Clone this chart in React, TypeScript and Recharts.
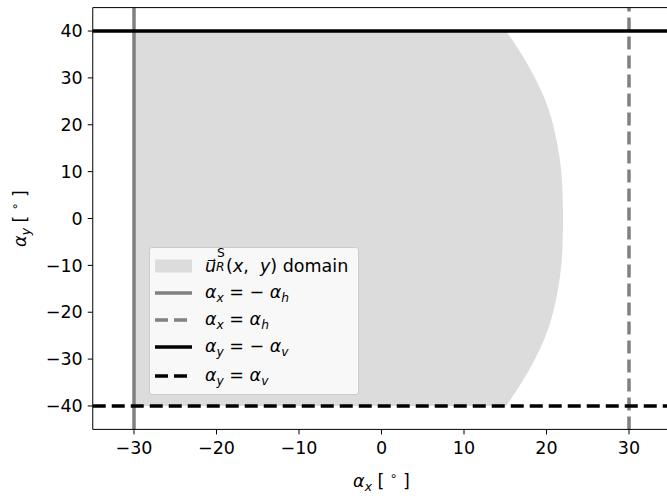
import React from "react"
import { ComposedChart, Area, XAxis, YAxis, ReferenceLine } from "recharts"

const elevations = [-40, -35, -30, -25, -20, -15, -10, -5, 0, 5, 10, 15, 20, 25, 30, 35, 40]
const edgeX = [15.1, 17.0, 18.6, 19.9, 20.8, 21.4, 21.8, 21.95, 22.0, 21.95, 21.8, 21.4, 20.8, 19.9, 18.6, 17.0, 15.1]

const alphaH = 30
const alphaV = 40

const xTicks = [-30, -20, -10, 0, 10, 20, 30]
const yTicks = [-40, -30, -20, -10, 0, 10, 20, 30, 40]

const domainData = elevations.map((y, i) => ({ y, span: [-alphaH, edgeX[i]] }))

const FONT = "'DejaVu Sans', sans-serif"
const FS = 17.5
const minus = (v: number) => String(v).replace("-", "\u2212")

const XLabel = (props: any) => {
  const vb = props.viewBox || { x: 93, width: 577 }
  const cx = vb.x + vb.width / 2
  return (
    <text x={cx} y={487} textAnchor="middle" fontSize={FS} fontFamily={FONT} fill="#000">
      <tspan fontStyle="italic">α</tspan>
      <tspan fontStyle="italic" fontSize={FS * 0.7} dy={4}>x</tspan>
      <tspan dy={-4}>{" [ "}</tspan>
      <tspan fontSize={FS * 0.7} dy={-7}>∘</tspan>
      <tspan dy={7}>{" ]"}</tspan>
    </text>
  )
}

const YLabel = (props: any) => {
  const vb = props.viewBox || { y: 7.6, height: 421.8 }
  const cy = vb.y + vb.height / 2
  return (
    <text x={0} y={0} transform={`translate(26, ${cy}) rotate(-90)`} textAnchor="middle" fontSize={FS} fontFamily={FONT} fill="#000">
      <tspan fontStyle="italic">α</tspan>
      <tspan fontStyle="italic" fontSize={FS * 0.7} dy={4}>y</tspan>
      <tspan dy={-4}>{" [ "}</tspan>
      <tspan fontSize={FS * 0.7} dy={-7}>∘</tspan>
      <tspan dy={7}>{" ]"}</tspan>
    </text>
  )
}

const Sub = ({ children }: { children: React.ReactNode }) => (
  <span style={{ fontSize: "0.7em", position: "relative", top: "0.3em", fontStyle: "italic" }}>{children}</span>
)

const Handle = ({ kind }: { kind: string }) => (
  <svg width={37} height={14} style={{ display: "block" }}>
    {kind === "patch" ? (
      <rect x={0} y={0.5} width={37} height={13} fill="#dcdcdc" />
    ) : (
      <line
        x1={0}
        x2={37}
        y1={7}
        y2={7}
        stroke={kind.startsWith("gray") ? "#808080" : "#000"}
        strokeWidth={3.5}
        strokeDasharray={kind.endsWith("dash") ? "13 6" : undefined}
      />
    )}
  </svg>
)

const legendRows: { kind: string; center: number; label: React.ReactNode }[] = [
  {
    kind: "patch",
    center: 18,
    label: (
      <span>
        <i>u⃗</i>
        <span style={{ display: "inline-block", position: "relative", width: 10, height: 10, fontSize: "0.7em" }}>
          <span style={{ position: "absolute", left: 1, top: -15, lineHeight: 1 }}>S</span>
          <i style={{ position: "absolute", left: 0, top: -1, lineHeight: 1 }}>R</i>
        </span>
        (<i>x</i>,  <i>y</i>) domain
      </span>
    ),
  },
  { kind: "gray", center: 45.3, label: <span><i>α</i><Sub>x</Sub> = − <i>α</i><Sub>h</Sub></span> },
  { kind: "graydash", center: 72.3, label: <span><i>α</i><Sub>x</Sub> = <i>α</i><Sub>h</Sub></span> },
  { kind: "black", center: 99, label: <span><i>α</i><Sub>y</Sub> = − <i>α</i><Sub>v</Sub></span> },
  { kind: "blackdash", center: 128, label: <span><i>α</i><Sub>y</Sub> = <i>α</i><Sub>v</Sub></span> },
]

const DomainLegend = () => (
  <div
    style={{
      position: "absolute",
      left: 149,
      top: 247,
      width: 210,
      height: 148,
      boxSizing: "border-box",
      background: "rgba(255,255,255,0.8)",
      border: "1px solid #cccccc",
      borderRadius: 3,
      fontFamily: FONT,
      fontSize: FS,
      color: "#000",
    }}
  >
    {legendRows.map((r) => (
      <div key={r.kind} style={{ position: "absolute", left: 5, top: r.center - 11, height: 22, display: "flex", alignItems: "center", whiteSpace: "pre" }}>
        <Handle kind={r.kind} />
        <div style={{ marginLeft: 13, lineHeight: "22px" }}>{r.label}</div>
      </div>
    ))}
  </div>
)

export default function App() {
  return (
    <div style={{ position: "absolute", left: 0, top: 0, width: 667, height: 498, overflow: "hidden", background: "#fff" }}>
      <ComposedChart
        width={680}
        height={498}
        layout="vertical"
        data={domainData}
        margin={{ top: 7.6, right: 9.75, bottom: 0, left: 0 }}
        style={{ fontFamily: FONT }}
      >
        <XAxis
          type="number"
          domain={[-35, 35]}
          ticks={xTicks}
          allowDataOverflow
          tickFormatter={minus}
          height={68.6}
          stroke="#000"
          tick={{ fill: "#000", fontSize: FS }}
          tickSize={5}
          tickMargin={7}
          label={{ content: XLabel }}
        />
        <YAxis
          type="number"
          dataKey="y"
          domain={[-45, 45]}
          ticks={yTicks}
          reversed
          allowDataOverflow
          tickFormatter={minus}
          width={92.75}
          stroke="#000"
          tick={{ fill: "#000", fontSize: FS }}
          tickSize={5}
          tickMargin={5}
          label={{ content: YLabel }}
        />
        <Area dataKey="span" type="natural" fill="#dcdcdc" fillOpacity={1} stroke="none" isAnimationActive={false} />
        <ReferenceLine x={-alphaH} stroke="#808080" strokeWidth={3.5} />
        <ReferenceLine x={alphaH} stroke="#808080" strokeWidth={3.5} strokeDasharray="13 6" />
        <ReferenceLine y={alphaV} stroke="#000" strokeWidth={3.5} />
        <ReferenceLine y={-alphaV} stroke="#000" strokeWidth={3.5} strokeDasharray="13 6" />
        <ReferenceLine y={45} stroke="#000" strokeWidth={1} />
      </ComposedChart>
      <DomainLegend />
    </div>
  )
}
